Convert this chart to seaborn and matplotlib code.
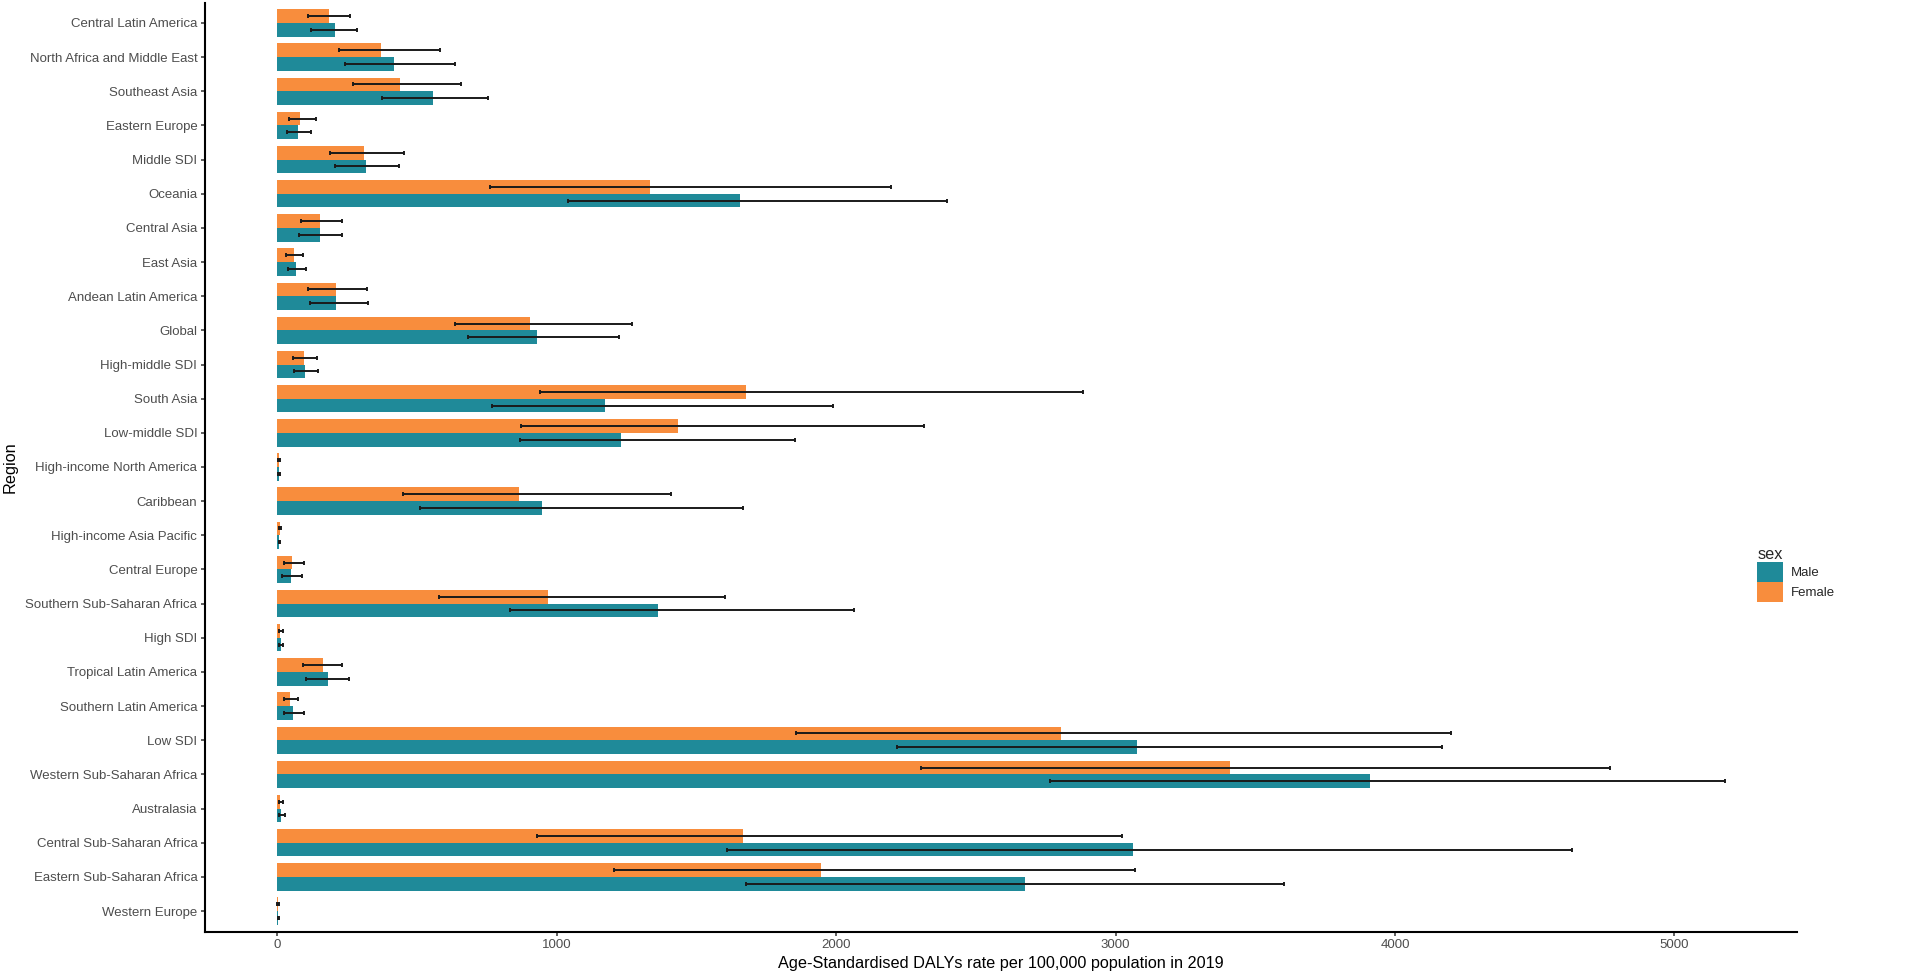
import numpy as np
import pandas as pd
import matplotlib
matplotlib.use("Agg")
import matplotlib.pyplot as plt
from matplotlib.patches import Patch
import seaborn as sns

regions = [
    "Central Latin America", "North Africa and Middle East", "Southeast Asia",
    "Eastern Europe", "Middle SDI", "Oceania", "Central Asia", "East Asia",
    "Andean Latin America", "Global", "High-middle SDI", "South Asia",
    "Low-middle SDI", "High-income North America", "Caribbean",
    "High-income Asia Pacific", "Central Europe", "Southern Sub-Saharan Africa",
    "High SDI", "Tropical Latin America", "Southern Latin America", "Low SDI",
    "Western Sub-Saharan Africa", "Australasia", "Central Sub-Saharan Africa",
    "Eastern Sub-Saharan Africa", "Western Europe",
]

female_val = [186, 370, 438, 81, 311, 1333, 154, 60, 211, 904, 96, 1676, 1434, 7,
              865, 9, 53, 967, 10, 163, 47, 2804, 3411, 10, 1666, 1944, 2]
female_lo = [110, 221, 270, 40, 190, 760, 84, 32, 111, 634, 57, 939, 872, 4,
             448, 7, 22, 577, 5, 92, 22, 1858, 2305, 5, 930, 1206, 0]
female_hi = [259, 581, 657, 137, 454, 2198, 230, 92, 321, 1271, 141, 2883, 2315, 9,
             1408, 12, 94, 1603, 19, 230, 74, 4199, 4770, 21, 3022, 3069, 5]

male_val = [206, 419, 556, 73, 317, 1656, 151, 67, 211, 931, 100, 1174, 1229, 5,
            948, 7, 49, 1362, 14, 182, 57, 3078, 3909, 14, 3061, 2677, 3]
male_lo = [122, 243, 376, 33, 206, 1041, 78, 37, 116, 682, 60, 770, 869, 3,
           512, 5, 18, 833, 7, 104, 25, 2217, 2767, 7, 1610, 1679, 1]
male_hi = [286, 637, 754, 121, 435, 2397, 230, 102, 324, 1223, 144, 1988, 1854, 8,
           1665, 10, 87, 2065, 21, 257, 94, 4167, 5180, 27, 4635, 3603, 7]

sexes = ["Male", "Female"]
colors = {"Male": "#1F8A99", "Female": "#F88D3D"}

df = pd.concat([
    pd.DataFrame({"region": regions, "sex": "Female", "value": female_val,
                  "lo": female_lo, "hi": female_hi}),
    pd.DataFrame({"region": regions, "sex": "Male", "value": male_val,
                  "lo": male_lo, "hi": male_hi}),
], ignore_index=True)

sns.set_theme(style="white")
plt.rcParams["font.family"] = ["Liberation Sans", "DejaVu Sans"]

W, H = 1905, 976
fig = plt.figure(figsize=(W / 100, H / 100), dpi=100)
left, right, top, bottom = 205, 1797, 2.5, 931.5
ax = fig.add_axes([left / W, 1 - bottom / H, (right - left) / W, (bottom - top) / H])

hue_order = ["Female", "Male"]
sns.barplot(data=df, y="region", x="value", hue="sex", order=regions,
            hue_order=hue_order, palette=colors, width=0.8, errorbar=None,
            saturation=1, linewidth=0, ax=ax, legend=False)

for cont, sex in zip(ax.containers, hue_order):
    sub = df[df["sex"] == sex].set_index("region").loc[regions]
    ys = [b.get_y() + b.get_height() / 2 for b in cont]
    vals = sub["value"].to_numpy()
    err = np.vstack([vals - sub["lo"].to_numpy(), sub["hi"].to_numpy() - vals])
    ax.errorbar(vals, ys, xerr=err, fmt="none", ecolor="#1a1a1a",
                elinewidth=1.4, capsize=1.7, capthick=1.4, zorder=3)

ax.set_xlim(-259, 5439)
ax.set_ylim(len(regions) - 0.4, -0.6)
ax.set_xticks([0, 1000, 2000, 3000, 4000, 5000])

for s in ["top", "right"]:
    ax.spines[s].set_visible(False)
for s in ["left", "bottom"]:
    ax.spines[s].set_color("black")
    ax.spines[s].set_linewidth(1.5)

ax.tick_params(axis="both", which="both", length=3, width=1.1, color="#333333",
               labelsize=9.5, labelcolor="#4D4D4D", pad=2.5, direction="out")
ax.tick_params(left=True, bottom=True)

ax.set_xlabel("Age-Standardised DALYs rate per 100,000 population in 2019",
              fontsize=11.7, color="black")
ax.set_ylabel("Region", fontsize=11.7, color="black")
ax.xaxis.set_label_coords(0.5, -(956 - bottom) / (bottom - top))
ax.yaxis.set_label_coords((18 - left) / (right - left), 0.5)
ax.grid(False)

handles = [Patch(facecolor=colors[s], edgecolor="none", label=s) for s in sexes]
leg = fig.legend(handles=handles, labels=sexes, title="sex",
                 loc="upper left", bbox_to_anchor=(1748 / W, 1 - 538 / H),
                 frameon=False, fontsize=9.5, title_fontsize=11.7,
                 handlelength=1.95, handleheight=1.95, labelspacing=0.0,
                 handletextpad=0.6, borderpad=0.2, alignment="left")

fig.savefig("out.png", dpi=100, facecolor="white")
